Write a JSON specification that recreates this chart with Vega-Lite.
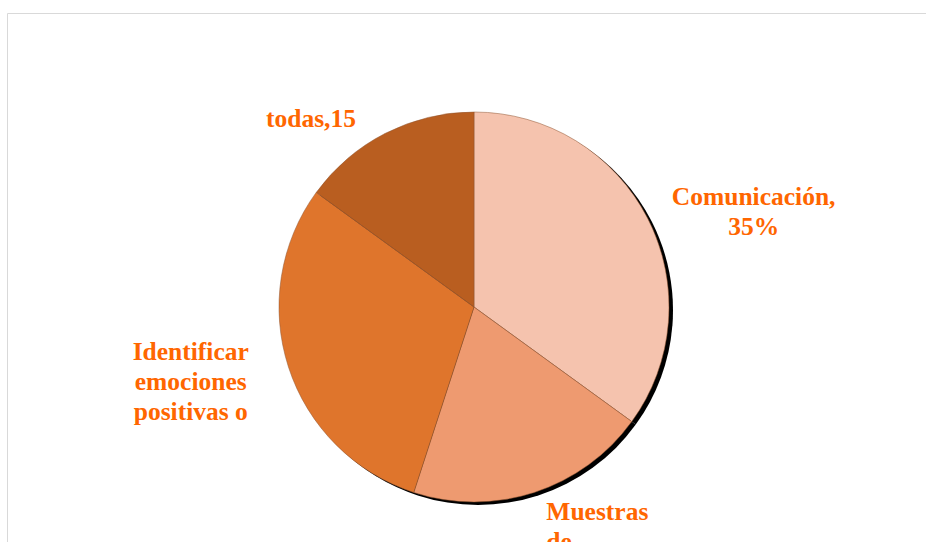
{
  "$schema": "https://vega.github.io/schema/vega-lite/v6.json",
  "autosize": {"type": "none"},
  "width": 934,
  "height": 588,
  "padding": {"left": 7, "top": 13, "right": 0, "bottom": 0},
  "background": "white",
  "view": {"stroke": "#d9d9d9", "strokeWidth": 1, "fill": "white"},
  "data": {"values": [
    {"categoria": "Comunicación", "orden": 1, "valor": 35, "etiqueta": ["Comunicación,", "35%"]},
    {"categoria": "Muestras", "orden": 2, "valor": 20, "etiqueta": ["Muestras", "de"]},
    {"categoria": "Identificar", "orden": 3, "valor": 30, "etiqueta": ["Identificar", "emociones", "positivas o"]},
    {"categoria": "todas", "orden": 4, "valor": 15, "etiqueta": ["todas,15"]}
  ]},
  "encoding": {
    "theta": {"field": "valor", "type": "quantitative", "stack": true},
    "order": {"field": "orden", "type": "quantitative"}
  },
  "layer": [
    {
      "mark": {"type": "arc", "outerRadius": 195, "fill": "black", "xOffset": 4, "yOffset": 3}
    },
    {
      "mark": {"type": "arc", "outerRadius": 195, "stroke": "#8f5530", "strokeWidth": 0.5},
      "encoding": {
        "color": {"field": "categoria", "type": "nominal", "legend": null,
          "scale": {"domain": ["Comunicación", "Muestras", "Identificar", "todas"],
                    "range": ["#f5c3ae", "#ee9a70", "#df752c", "#b95e20"]}}
      }
    },
    {
      "mark": {"type": "text", "radius": 260, "dx": 48, "dy": 16, "align": "center", "baseline": "alphabetic",
               "font": "Liberation Serif", "fontSize": 25.5, "fontWeight": "bold", "lineHeight": 30, "fill": "#ff6600"},
      "encoding": {"text": {"condition": {"test": "datum.categoria === 'Comunicación'", "field": "etiqueta"}, "value": ""}}
    },
    {
      "mark": {"type": "text", "radius": 260, "dx": -8, "dy": -34, "align": "left", "baseline": "alphabetic",
               "font": "Liberation Serif", "fontSize": 25.5, "fontWeight": "bold", "lineHeight": 30, "fill": "#ff6600"},
      "encoding": {"text": {"condition": {"test": "datum.categoria === 'Muestras'", "field": "etiqueta"}, "value": ""}}
    },
    {
      "mark": {"type": "text", "radius": 260, "dx": -36, "dy": -27, "align": "center", "baseline": "alphabetic",
               "font": "Liberation Serif", "fontSize": 25.5, "fontWeight": "bold", "lineHeight": 30, "fill": "#ff6600"},
      "encoding": {"text": {"condition": {"test": "datum.categoria === 'Identificar'", "field": "etiqueta"}, "value": ""}}
    },
    {
      "mark": {"type": "text", "radius": 260, "dx": -45, "dy": 52, "align": "center", "baseline": "alphabetic",
               "font": "Liberation Serif", "fontSize": 25.5, "fontWeight": "bold", "lineHeight": 30, "fill": "#ff6600"},
      "encoding": {"text": {"condition": {"test": "datum.categoria === 'todas'", "field": "etiqueta"}, "value": ""}}
    }
  ]
}
